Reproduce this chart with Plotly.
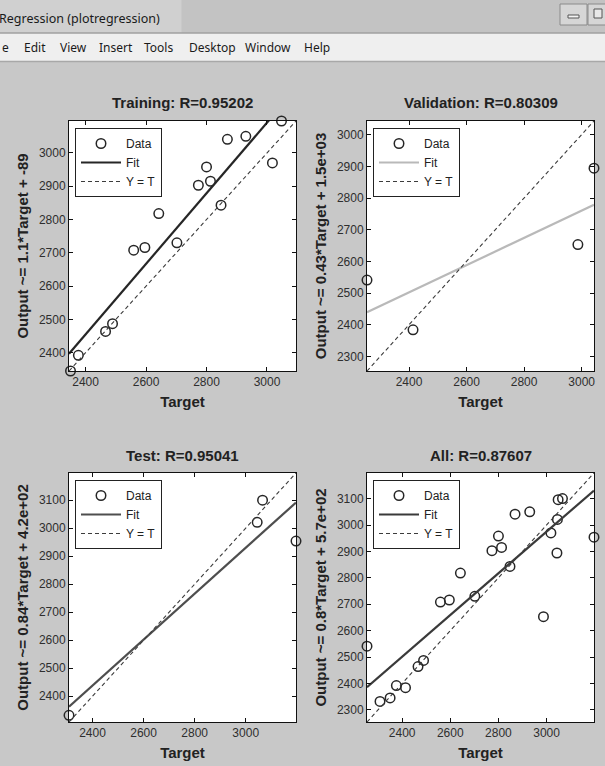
import plotly.graph_objects as go

W, H = 605, 766

# ---------------- data ----------------
train_target = [2350, 2376, 2466, 2489, 2559, 2596, 2642, 2702, 2773, 2800, 2813, 2848, 2869, 2930, 3018, 3048]
train_output = [2345, 2392, 2464, 2487, 2708, 2716, 2818, 2730, 2903, 2958, 2915, 2843, 3041, 3050, 2970, 3096]

val_target = [2254, 2414, 2987, 3043]
val_output = [2541, 2384, 2653, 2894]

test_target = [2308, 3045, 3066, 3197]
test_output = [2332, 3021, 3100, 2954]

all_target = train_target + val_target + test_target
all_output = train_output + val_output + test_output

panel_names = ["Training", "Validation", "Test", "All"]
panel_r = ["0.95202", "0.80309", "0.95041", "0.87607"]
fit_slope = [1.06, 0.43, 0.82, 0.79]
fit_intercept = [-89, 1470, 470, 605]
ylabel_text = ["Output ~= 1.1*Target + -89",
               "Output ~= 0.43*Target + 1.5e+03",
               "Output ~= 0.84*Target + 4.2e+02",
               "Output ~= 0.8*Target + 5.7e+02"]

menu_items = ["e", "Edit", "View", "Insert", "Tools", "Desktop", "Window", "Help"]
menu_x = [0, 22, 58, 97, 142, 187, 243, 302]

targets = [train_target, val_target, test_target, all_target]
outputs = [train_output, val_output, test_output, all_output]

# ---------------- styling ----------------
fit_colors = ["#262626", "#b9b9b9", "#4e4e4e", "#3a3a3a"]
fig_bg = "#c8c8c8"
font_main = "Liberation Sans"

# panel geometry in pixels (left, right, top, bottom)
boxes = [(69, 296, 121, 371), (367, 594, 121, 371),
         (69, 296, 473, 722), (367, 594, 473, 722)]
legend_pos = [(75, 128), (373, 128), (75, 480), (373, 480)]

fig = go.Figure()

def px2x(p):
    return p / W

def px2y(p):
    return 1 - p / H

layout_axes = {}
annotations = []
for i in range(4):
    t = targets[i]
    o = outputs[i]
    lo = min(min(t), min(o))
    hi = max(max(t), max(o))
    xa = "x" if i == 0 else f"x{i+1}"
    ya = "y" if i == 0 else f"y{i+1}"
    lg = "legend" if i == 0 else f"legend{i+1}"
    fig.add_trace(go.Scatter(
        x=t, y=o, mode="markers", name="Data", xaxis=xa, yaxis=ya, legend=lg,
        marker=dict(symbol="circle-open", size=9.5, color="#262626", line=dict(width=1.5)),
        cliponaxis=False, hoverinfo="skip"))
    fx = [lo, hi]
    fy = [fit_slope[i] * v + fit_intercept[i] for v in fx]
    fig.add_trace(go.Scatter(
        x=fx, y=fy, mode="lines", name="Fit", xaxis=xa, yaxis=ya, legend=lg,
        line=dict(color=fit_colors[i], width=2.2), hoverinfo="skip"))
    fig.add_trace(go.Scatter(
        x=[lo, hi], y=[lo, hi], mode="lines", name="Y = T", xaxis=xa, yaxis=ya, legend=lg,
        line=dict(color="#3c3c3c", width=1.1, dash="4px,3px"), hoverinfo="skip"))

    l, r, tp, bt = boxes[i]
    axis_common = dict(
        showline=True, linecolor="#111", linewidth=1, mirror="ticks",
        ticks="inside", ticklen=4, tickcolor="#111", showgrid=False, zeroline=False,
        tickfont=dict(family=font_main, size=12, color="#2e2e2e"), range=[lo, hi],
        fixedrange=True)
    key_x = "xaxis" if i == 0 else f"xaxis{i+1}"
    key_y = "yaxis" if i == 0 else f"yaxis{i+1}"
    layout_axes[key_x] = dict(axis_common, domain=[px2x(l), px2x(r)], anchor=ya,
                              dtick=200, tick0=0,
                              title=dict(text="Target", standoff=8,
                                         font=dict(family=font_main, size=15, color="#222", weight="bold")))
    layout_axes[key_y] = dict(axis_common, domain=[px2y(bt), px2y(tp)], anchor=xa,
                              dtick=100, tick0=0,
                              title=dict(text=ylabel_text[i], standoff=6,
                                         font=dict(family=font_main, size=15, color="#222", weight="bold")))
    layout_axes[lg] = dict(
        x=px2x(legend_pos[i][0]), y=px2y(legend_pos[i][1]), xanchor="left", yanchor="top",
        xref="paper", yref="paper",
        bgcolor="white", bordercolor="#222", borderwidth=1,
        font=dict(family=font_main, size=12, color="#222"), itemwidth=40,
        tracegroupgap=0)
    annotations.append(dict(
        text=f"{panel_names[i]}: R={panel_r[i]}", x=px2x((l + r) / 2), y=px2y(tp - 18),
        xref="paper", yref="paper", showarrow=False, xanchor="center", yanchor="middle",
        font=dict(family=font_main, size=15, color="#222", weight="bold")))

# window chrome
shapes = [
    dict(type="rect", xref="paper", yref="paper", x0=0, x1=1, y0=px2y(33), y1=1,
         fillcolor="#c3c3c3", line=dict(width=0), layer="below"),
    dict(type="rect", xref="paper", yref="paper", x0=0, x1=0.3, y0=px2y(33), y1=1,
         fillcolor="#d0d0d0", line=dict(width=0), layer="below"),
    dict(type="rect", xref="paper", yref="paper", x0=0, x1=1, y0=px2y(61), y1=px2y(33),
         fillcolor="#efefef", line=dict(width=0), layer="below"),
    dict(type="line", xref="paper", yref="paper", x0=0, x1=1, y0=px2y(33), y1=px2y(33),
         line=dict(color="#a0a0a0", width=1.5), layer="below"),
    dict(type="line", xref="paper", yref="paper", x0=0, x1=1, y0=px2y(61.5), y1=px2y(61.5),
         line=dict(color="#a8a8a8", width=1.5), layer="below"),
    dict(type="rect", xref="paper", yref="paper", x0=px2x(560), x1=px2x(587), y0=px2y(25), y1=px2y(4),
         fillcolor="#d6d6d6", line=dict(color="#8a8a8a", width=1), layer="below"),
    dict(type="rect", xref="paper", yref="paper", x0=px2x(568), x1=px2x(579), y0=px2y(18), y1=px2y(15),
         fillcolor="#f4f4f4", line=dict(color="#555", width=1), layer="below"),
    dict(type="rect", xref="paper", yref="paper", x0=px2x(588), x1=px2x(610), y0=px2y(25), y1=px2y(4),
         fillcolor="#d6d6d6", line=dict(color="#8a8a8a", width=1), layer="below"),
    dict(type="rect", xref="paper", yref="paper", x0=px2x(594), x1=px2x(602), y0=px2y(18), y1=px2y(9),
         fillcolor="#e8e8e8", line=dict(color="#555", width=1), layer="below"),
]

annotations.append(dict(
    text="Regression (plotregression)", x=px2x(-3), y=px2y(18), xref="paper", yref="paper",
    showarrow=False, xanchor="left", yanchor="middle",
    font=dict(family="Noto Sans", size=12.5, color="#1a1a1a")))
for name, mx in zip(menu_items, menu_x):
    annotations.append(dict(
        text=name, x=px2x(mx), y=px2y(48), xref="paper", yref="paper",
        showarrow=False, xanchor="left", yanchor="middle",
        font=dict(family="Noto Sans", size=12, color="#1a1a1a")))

fig.update_layout(
    width=W, height=H, margin=dict(l=0, r=0, t=0, b=0),
    paper_bgcolor=fig_bg, plot_bgcolor="white",
    showlegend=True, shapes=shapes, annotations=annotations,
    **layout_axes)

fig.write_html(
    "out.html",
    config={"displayModeBar": False},
    post_script="document.body.style.margin='0';document.body.style.overflow='hidden';"
                "document.body.style.background='#c8c8c8';")
